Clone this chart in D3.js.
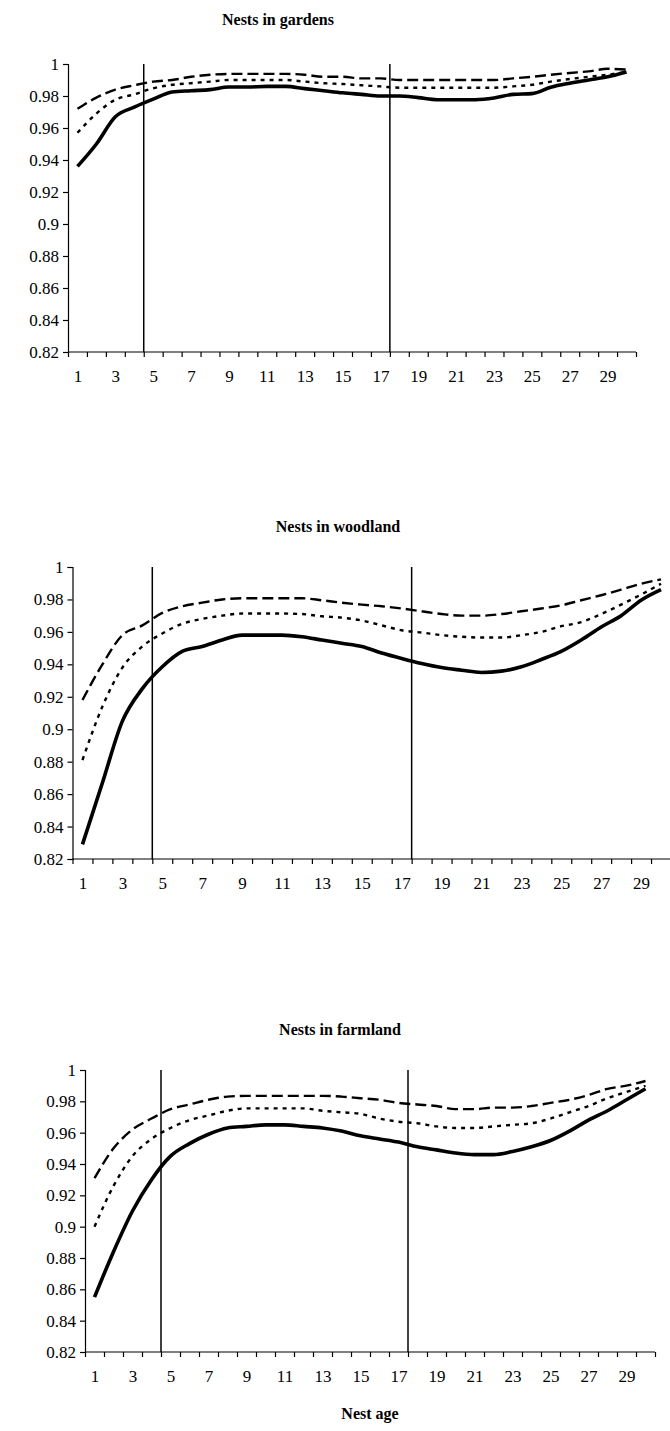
<!DOCTYPE html>
<html>
<head>
<meta charset="utf-8">
<script src="https://cdn.jsdelivr.net/npm/d3@7"></script>
<style>
  body { margin: 0; background: #fff; }
  svg { display: block; }
  text { font-family: "Liberation Serif", "Times New Roman", serif; fill: #000; }
</style>
</head>
<body>
<script>
// Nest age in days (one category per day)
const nestAges = d3.range(1, 31);
const xTickLabels = ["1","3","5","7","9","11","13","15","17","19","21","23","25","27","29"];
const yTickValues = [0.82, 0.84, 0.86, 0.88, 0.9, 0.92, 0.94, 0.96, 0.98, 1];
const yTickLabels = ["0.82","0.84","0.86","0.88","0.9","0.92","0.94","0.96","0.98","1"];
// Boundaries between laying / incubation / nestling stages
const stageBounds = [4.5, 17.5];

const panelTitles = ["Nests in gardens", "Nests in woodland", "Nests in farmland"];

// Daily survival rates: solid (lower), dotted (middle), dashed (upper)
const gardensSolid  = [0.936,0.950,0.967,0.973,0.978,0.9825,0.9833,0.984,0.9856,0.9856,0.986,0.986,0.9846,0.9833,0.982,0.981,0.980,0.980,0.979,0.9777,0.9777,0.9777,0.9787,0.981,0.9815,0.9855,0.988,0.990,0.992,0.995];
const gardensDotted = [0.957,0.969,0.9777,0.981,0.9848,0.987,0.988,0.989,0.990,0.990,0.990,0.990,0.989,0.988,0.9875,0.9867,0.986,0.9852,0.9852,0.9852,0.9852,0.9852,0.9852,0.986,0.987,0.989,0.9906,0.992,0.9933,0.995];
const gardensDashed = [0.972,0.979,0.984,0.9867,0.989,0.990,0.992,0.9933,0.9938,0.9938,0.9938,0.9938,0.9933,0.992,0.992,0.991,0.991,0.990,0.990,0.990,0.990,0.990,0.990,0.991,0.992,0.9933,0.9944,0.9954,0.997,0.9965];

const woodlandSolid  = [0.829,0.867,0.905,0.925,0.9385,0.948,0.951,0.955,0.958,0.958,0.958,0.957,0.955,0.953,0.951,0.947,0.9436,0.9405,0.938,0.9364,0.935,0.9358,0.9385,0.943,0.948,0.955,0.963,0.970,0.9795,0.986];
const woodlandDotted = [0.881,0.914,0.938,0.951,0.959,0.965,0.968,0.970,0.9713,0.9713,0.9713,0.971,0.9696,0.9688,0.967,0.964,0.961,0.9596,0.958,0.957,0.9565,0.9565,0.958,0.960,0.9635,0.966,0.971,0.9768,0.983,0.9897];
const woodlandDashed = [0.918,0.940,0.958,0.964,0.9717,0.9758,0.978,0.980,0.9807,0.9807,0.9807,0.9807,0.9795,0.978,0.9768,0.9758,0.9744,0.9727,0.971,0.970,0.970,0.971,0.9727,0.9744,0.9764,0.9795,0.9826,0.986,0.9897,0.9924];

const farmlandSolid  = [0.855,0.884,0.910,0.930,0.945,0.953,0.959,0.963,0.964,0.965,0.965,0.964,0.963,0.961,0.958,0.956,0.954,0.951,0.949,0.947,0.946,0.946,0.948,0.951,0.955,0.961,0.968,0.974,0.981,0.988];
const farmlandDotted = [0.900,0.926,0.945,0.956,0.963,0.968,0.971,0.974,0.9755,0.9755,0.9755,0.9755,0.974,0.973,0.972,0.969,0.967,0.966,0.964,0.963,0.963,0.964,0.965,0.966,0.969,0.973,0.977,0.982,0.986,0.990];
const farmlandDashed = [0.931,0.950,0.962,0.969,0.975,0.978,0.981,0.983,0.9835,0.9835,0.9835,0.9835,0.9835,0.983,0.982,0.981,0.979,0.978,0.977,0.975,0.975,0.976,0.976,0.977,0.979,0.981,0.984,0.988,0.990,0.993];

// Panel frames (pixel boxes of each plot area and its title)
const frames = [
  { left: 68,   right: 636, top: 64,   bottom: 352,  titleX: 278, titleY: 25 },
  { left: 72.5, right: 671, top: 567,  bottom: 859,  titleX: 338, titleY: 532 },
  { left: 85,   right: 655, top: 1070, bottom: 1352, titleX: 340, titleY: 1035 }
];

const seriesByPanel = [
  [gardensSolid,  gardensDotted,  gardensDashed],
  [woodlandSolid, woodlandDotted, woodlandDashed],
  [farmlandSolid, farmlandDotted, farmlandDashed]
];

// stroke styles for solid / dotted / dashed
const lineStyles = [
  { width: 3.6, dash: null },
  { width: 2.4, dash: "4,5" },
  { width: 2.4, dash: "11,5" }
];

const W = 670, H = 1431;
const svg = d3.select("body").append("svg").attr("width", W).attr("height", H);

frames.forEach((f, i) => {
  const g = svg.append("g");
  const x = d3.scaleLinear().domain([0.5, 30.5]).range([f.left, f.right]);
  const y = d3.scaleLinear().domain([0.82, 1]).range([f.bottom, f.top]);

  g.append("text")
    .attr("x", f.titleX).attr("y", f.titleY)
    .attr("text-anchor", "middle")
    .attr("font-weight", "bold")
    .attr("font-size", 16)
    .text(panelTitles[i]);

  // y axis
  const yAxis = d3.axisLeft(y).tickValues(yTickValues).tickSize(5).tickPadding(4)
    .tickFormat((d, k) => yTickLabels[k]);
  const ya = g.append("g").attr("transform", `translate(${f.left},0)`).call(yAxis);
  ya.select(".domain").attr("stroke", "#000").attr("stroke-width", 1.2);
  ya.selectAll(".tick line").attr("stroke", "#000").attr("stroke-width", 1.2);
  ya.selectAll("text").attr("font-size", 17).style("font-family", "Liberation Serif, serif");

  // x axis: tick marks on category boundaries, labels on odd ages
  const bounds = d3.range(0, 31).map(k => k + 0.5);
  const xAxis = d3.axisBottom(x).tickValues(bounds).tickSize(5).tickFormat("");
  const xa = g.append("g").attr("transform", `translate(0,${f.bottom})`).call(xAxis);
  xa.select(".domain").attr("stroke", "#000").attr("stroke-width", 1.2).attr("d", `M${f.left},0H${f.right}`);
  xa.selectAll(".tick line").attr("stroke", "#000").attr("stroke-width", 1.2);

  const xLab = d3.axisBottom(x).tickValues(xTickLabels.map(Number)).tickSize(0).tickPadding(18)
    .tickFormat((d, k) => xTickLabels[k]);
  const xl = g.append("g").attr("transform", `translate(0,${f.bottom})`).call(xLab);
  xl.select(".domain").remove();
  xl.selectAll("text").attr("font-size", 17).style("font-family", "Liberation Serif, serif");

  // stage boundaries
  g.selectAll(".stage").data(stageBounds).enter().append("line")
    .attr("x1", d => x(d)).attr("x2", d => x(d))
    .attr("y1", y(1)).attr("y2", y(0.82))
    .attr("stroke", "#000").attr("stroke-width", 1.5);

  // survival curves
  const line = d3.line().curve(d3.curveMonotoneX).x((d, k) => x(nestAges[k])).y(d => y(d));
  seriesByPanel[i].forEach((vals, s) => {
    g.append("path")
      .datum(vals)
      .attr("d", line)
      .attr("fill", "none")
      .attr("stroke", "#000")
      .attr("stroke-width", lineStyles[s].width)
      .attr("stroke-linejoin", "round")
      .attr("stroke-dasharray", lineStyles[s].dash);
  });
});

svg.append("text")
  .attr("x", 370).attr("y", 1419)
  .attr("text-anchor", "middle")
  .attr("font-weight", "bold")
  .attr("font-size", 16)
  .text("Nest age");
</script>
</body>
</html>
